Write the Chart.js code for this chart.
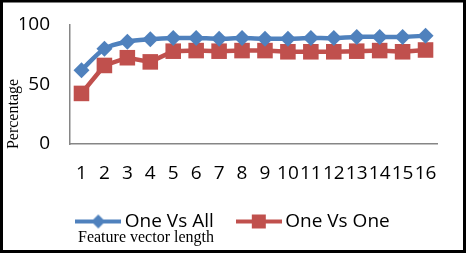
<!DOCTYPE html>
<html>
<head>
<meta charset="utf-8">
<script src="https://cdn.jsdelivr.net/npm/chart.js@4"></script>
<style>
  body { margin: 0; background: #fff; }
  canvas { display: block; }
</style>
</head>
<body>
<canvas id="chart" width="469" height="254"></canvas>
<script>
// chart values
const featureLengths = ['1', '2', '3', '4', '5', '6', '7', '8', '9', '10', '11', '12', '13', '14', '15', '16'];
const oneVsAll = [62, 80, 86, 88, 89, 89, 88.5, 89, 88.5, 88.5, 89, 89, 90, 90, 90, 91];
const oneVsOne = [42.5, 66, 72.5, 69, 78, 78.5, 78, 78.5, 78.5, 77.5, 77.5, 77.5, 78, 78.5, 77.5, 79];
const yTicks = [0, 50, 100];

const blue = '#4F81BD';
const red = '#C0504D';
const sansFont = { family: '"Open Sans", sans-serif', size: 19 };

// legend symbol: short line with the marker on it
function legendSymbol(color, style) {
    const c = document.createElement('canvas');
    c.width = 46;
    c.height = 18;
    const g = c.getContext('2d');
    g.strokeStyle = color;
    g.lineWidth = 4;
    g.beginPath();
    g.moveTo(0, 9);
    g.lineTo(46, 9);
    g.stroke();
    g.fillStyle = color;
    if (style === 'diamond') {
        g.beginPath();
        g.moveTo(23, 2);
        g.lineTo(30, 9);
        g.lineTo(23, 16);
        g.lineTo(16, 9);
        g.closePath();
        g.fill();
    } else {
        g.fillRect(16, 2, 14, 14);
    }
    return c;
}

const extraText = {
    id: 'extraText',
    afterLayout(chart) {
        // legend sits a little right of centre in the original
        chart.legend.left += 7;
        chart.legend.right += 7;
    },
    afterDraw(chart) {
        const ctx = chart.ctx;
        ctx.save();
        ctx.fillStyle = '#000';
        ctx.font = '16px "Liberation Serif", "Times New Roman", serif';
        ctx.textBaseline = 'middle';
        ctx.textAlign = 'left';
        ctx.fillText('Feature vector length', 78, 238);
        ctx.translate(14, 114);
        ctx.rotate(-Math.PI / 2);
        ctx.textAlign = 'center';
        ctx.fillText('Percentage', 0, 0);
        ctx.restore();

        // frame round the picture
        ctx.save();
        ctx.strokeStyle = '#000';
        ctx.lineWidth = 3;
        ctx.strokeRect(1.5, 1, 463, 250.5);
        ctx.restore();
    }
};

function noScalePadding(scale) {
    scale.paddingTop = 0;
    scale.paddingBottom = 0;
    scale.paddingLeft = 0;
    scale.paddingRight = 0;
}

const ctx = document.getElementById('chart').getContext('2d');
new Chart(ctx, {
    type: 'line',
    data: {
        labels: featureLengths,
        datasets: [
            {
                label: 'One Vs All',
                data: oneVsAll,
                borderColor: blue,
                backgroundColor: blue,
                borderWidth: 4.5,
                pointStyle: 'rectRot',
                pointRadius: 8,
                pointBorderWidth: 0,
                tension: 0.3,
                fill: false
            },
            {
                label: 'One Vs One',
                data: oneVsOne,
                borderColor: red,
                backgroundColor: red,
                borderWidth: 4.5,
                pointStyle: 'rect',
                pointRadius: 11,
                pointBorderWidth: 0,
                tension: 0,
                fill: false
            }
        ]
    },
    options: {
        responsive: false,
        animation: false,
        layout: { autoPadding: false, padding: { left: 20, right: 32, top: 25, bottom: 20 } },
        plugins: {
            tooltip: { enabled: false },
            legend: {
                position: 'bottom',
                maxHeight: 50,
                labels: {
                    usePointStyle: true,
                    pointStyleWidth: 34,
                    padding: 28,
                    color: '#000',
                    font: sansFont,
                    generateLabels(chart) {
                        return chart.data.datasets.map((ds, i) => ({
                            text: ds.label,
                            fillStyle: ds.borderColor,
                            strokeStyle: ds.borderColor,
                            lineWidth: 0,
                            pointStyle: legendSymbol(ds.borderColor, i === 0 ? 'diamond' : 'square'),
                            datasetIndex: i,
                            fontColor: '#000'
                        }));
                    }
                }
            }
        },
        scales: {
            x: {
                offset: true,
                grid: { display: false, drawTicks: false },
                border: { display: true, color: '#868686', width: 1.5 },
                afterFit(scale) { scale.height = 40; noScalePadding(scale); },
                ticks: {
                    autoSkip: false,
                    maxRotation: 0,
                    padding: 18,
                    color: '#000',
                    font: sansFont
                }
            },
            y: {
                min: 0,
                max: 100,
                afterBuildTicks(scale) {
                    scale.ticks = yTicks.map(v => ({ value: v }));
                },
                afterFit(scale) { scale.width = 50; noScalePadding(scale); },
                grid: { display: false, drawTicks: false },
                border: { display: true, color: '#868686', width: 1.5 },
                ticks: {
                    padding: 20,
                    color: '#000',
                    font: sansFont
                }
            }
        }
    },
    plugins: [extraText]
});
</script>
</body>
</html>
